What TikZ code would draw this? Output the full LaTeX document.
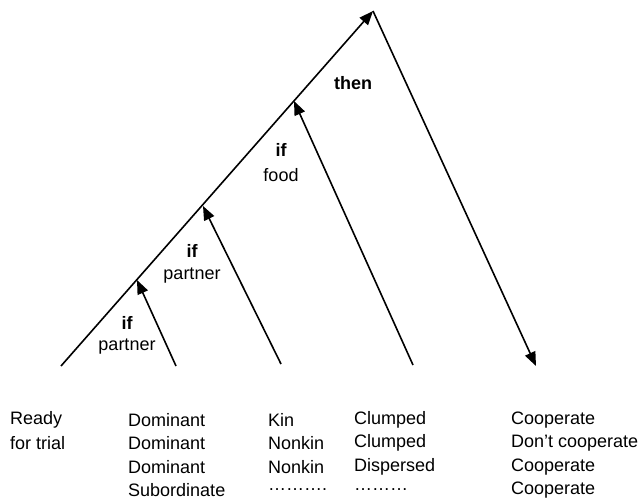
\documentclass[tikz,border=0pt]{standalone}
\usepackage{fontspec}
\setmainfont{Liberation Sans}
\usetikzlibrary{arrows.meta}
\begin{document}
\begin{tikzpicture}[x=1bp,y=-1bp,
  every node/.style={inner sep=0pt, font=\fontsize{18bp}{22bp}\selectfont},
  edge/.style={line width=1.6bp, line cap=butt},
  arr/.style={edge, -{Triangle[length=14bp,width=11bp]}},
  lbl/.style={anchor=center},
  cell/.style={anchor=west}]
\useasboundingbox (0,0) rectangle (640,503);
% coordinates
\coordinate (m0) at (61,366);
\coordinate (top) at (373,11);
\coordinate (t1) at (137,280);
\coordinate (t2) at (203,206);
\coordinate (t3) at (294,101);
\coordinate (b1) at (176,366);
\coordinate (b2) at (281,364);
\coordinate (b3) at (413,365);
\coordinate (f) at (536,366);
% connectors
\draw[arr] (m0) -- (top);
\draw[arr] (b1) -- (t1);
\draw[arr] (b2) -- (t2);
\draw[arr] (b3) -- (t3);
\draw[arr] (top) -- (f);
% labels
\node[lbl] (then) at (353,83) {\bfseries then};
\node[lbl] (if3) at (281,150) {\bfseries if};
\node[lbl] (food) at (281,175) {food};
\node[lbl] (if2) at (192,251) {\bfseries if};
\node[lbl] (par2) at (192,276) {partner};
\node[lbl] (if1) at (127,323) {\bfseries if};
\node[lbl] (par1) at (127,347) {partner};
% table
\node[cell] (r1c1) at (10,420) {Ready};
\node[cell] (r2c1) at (10,443) {for trial};
\node[cell] (r1c2) at (128,420) {Dominant};
\node[cell] (r2c2) at (128,443) {Dominant};
\node[cell] (r3c2) at (128,467) {Dominant};
\node[cell] (r4c2) at (128,490) {Subordinate};
\node[cell] (r1c3) at (268,420) {Kin};
\node[cell] (r2c3) at (268,443) {Nonkin};
\node[cell] (r3c3) at (268,467) {Nonkin};
\node[cell] (r4c3) at (268,490) {……….};
\node[cell] (r1c4) at (354,420) {Clumped};
\node[cell] (r2c4) at (354,443) {Clumped};
\node[cell] (r3c4) at (354,467) {Dispersed};
\node[cell] (r4c4) at (354,490) {………};
\node[cell] (r1c5) at (511,420) {Cooperate};
\node[cell] (r2c5) at (511,443) {Don’t cooperate};
\node[cell] (r3c5) at (511,467) {Cooperate};
\node[cell] (r4c5) at (511,490) {Cooperate};
\end{tikzpicture}
\end{document}
